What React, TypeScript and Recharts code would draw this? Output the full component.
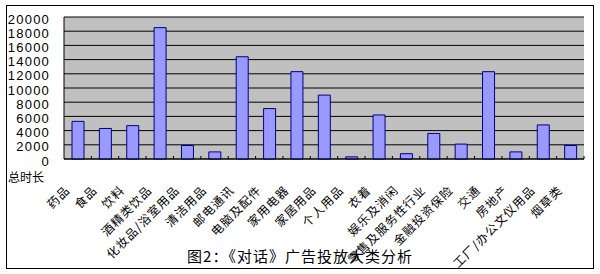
import React from "react";
import { BarChart, Bar, XAxis, YAxis, CartesianGrid } from "recharts";

const categories = [
  "药品",
  "食品",
  "饮料",
  "酒精类饮品",
  "化妆品/浴室用品",
  "清洁用品",
  "邮电通讯",
  "电脑及配件",
  "家用电器",
  "家居用品",
  "个人用品",
  "衣着",
  "娱乐及消闲",
  "零售及服务性行业",
  "金融投资保险",
  "交通",
  "房地产",
  "工厂/办公文仪用品",
  "烟草类",
];

const durations = [
  5300, 4300, 4700, 18500, 1900, 1000, 14400, 7100, 12300, 9000, 300, 6200,
  750, 3600, 2100, 12300, 1000, 4800, 1900,
];

const yTicks = [0, 2000, 4000, 6000, 8000, 10000, 12000, 14000, 16000, 18000, 20000];

const data = categories.map((name, i) => ({ name, value: durations[i] }));

const CategoryTick = (props: any) => {
  const { x, y, payload } = props;
  const half = payload.offset || 0;
  const ax = x - 7;
  const ay = y + 32;
  return (
    <g>
      <line x1={x + half} y1={y} x2={x + half} y2={y - 3} stroke="#000" />
      <text
        x={ax}
        y={ay}
        transform={`rotate(-45 ${ax} ${ay})`}
        textAnchor="end"
        fontSize={12}
        letterSpacing={1}
        fontFamily="'Noto Sans CJK SC', sans-serif"
        fill="#000"
      >
        {payload.value}
      </text>
    </g>
  );
};

const App: React.FC = () => {
  return (
    <div
      style={{
        position: "absolute",
        left: 0,
        top: 0,
        width: 600,
        height: 274,
        background: "#fff",
      }}
    >
      <div
        style={{
          position: "absolute",
          left: 6,
          top: 5,
          width: 586,
          height: 262,
          border: "1px solid #000",
        }}
      />
      <BarChart
        width={600}
        height={274}
        data={data}
        margin={{ top: 17, right: 16, bottom: 0, left: 6 }}
        barSize={12}
      >
        <CartesianGrid
          horizontal
          vertical={false}
          stroke="#000"
          fill="#c0c0c0"
          fillOpacity={1}
        />
        <XAxis
          dataKey="name"
          interval={0}
          height={115}
          tickSize={0}
          tickMargin={0}
          axisLine={{ stroke: "#000" }}
          tick={<CategoryTick />}
        />
        <YAxis
          width={58}
          domain={[0, 20000]}
          ticks={yTicks}
          interval={0}
          tickSize={0}
          tickMargin={14}
          axisLine={{ stroke: "#000" }}
          tick={{
            fill: "#000",
            fontSize: 13,
            letterSpacing: 1.2,
            fontFamily: "'Liberation Sans', sans-serif",
            dy: 2,
          }}
        />
        <Bar
          dataKey="value"
          fill="#9999ff"
          stroke="#000080"
          strokeWidth={1}
          isAnimationActive={false}
        />
      </BarChart>
      <div
        style={{
          position: "absolute",
          left: 8,
          top: 170,
          fontSize: 12,
          fontFamily: "'Noto Sans CJK SC', sans-serif",
          lineHeight: "14px",
        }}
      >
        总时长
      </div>
      <div
        style={{
          position: "absolute",
          left: 0,
          width: 600,
          top: 247,
          textAlign: "center",
          fontSize: 15,
          letterSpacing: 1,
          fontFamily: "'Noto Sans CJK SC', sans-serif",
          lineHeight: "18px",
        }}
      >
        图2：《对话》广告投放大类分析
      </div>
    </div>
  );
};

export default App;
